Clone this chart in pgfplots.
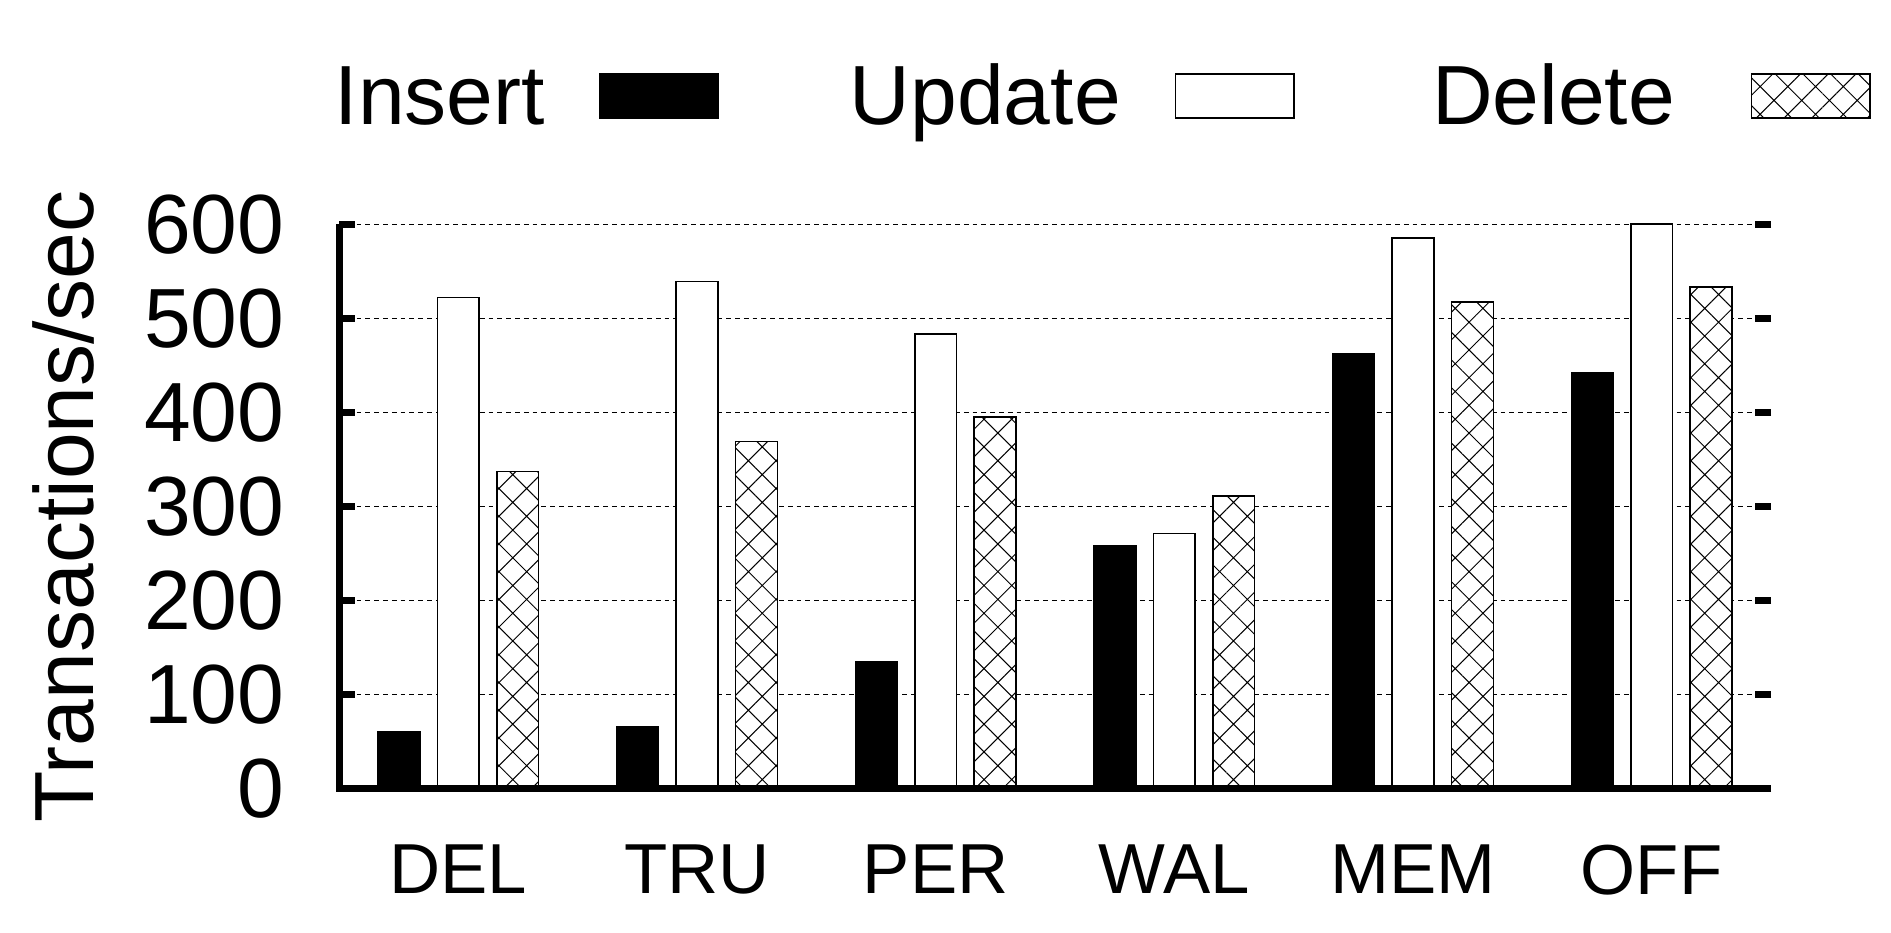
\documentclass[border=0pt]{standalone}
\usepackage{fontspec}
\setmainfont{Liberation Sans}
\usepackage{pgfplots}
\usepackage{pgfplotstable}
\pgfplotsset{compat=1.18}
\usetikzlibrary{patterns.meta}

\pgfplotsset{
    box legend/.style={legend image code/.code={%
        \draw[##1] (0pt,1.75pt) rectangle (29.6pt,12.75pt);}},
}

% x: journal mode index, ins/upd/del in transactions per second
\pgfplotstableread{
x ins upd del
0 60  522 337
1 66  539 369
2 135 483 395
3 258 271 311
4 462 585 517
5 442 600 533
}\modes

\begin{document}
\begin{tikzpicture}
\useasboundingbox (-84.75pt,-35.875pt) rectangle (388pt,197.125pt);
\begin{axis}[
    scale only axis,
    width=358pt, height=141.1pt,
    xmin=-0.5, xmax=5.5, ymin=0, ymax=600,
    clip=false,
    axis line style={draw=none},
    xtick={0,...,5},
    xticklabels={DEL,TRU,PER,WAL,MEM,OFF},
    xtick style={draw=none},
    xticklabel style={anchor=north, inner sep=0pt, yshift=-13.9pt,
        font=\fontsize{17.7}{20}\selectfont},
    ytick={0,100,...,600},
    ytick pos=both, yticklabel pos=left,
    tick align=inside,
    major tick length=3.9pt,
    ytick style={line width=1.75pt, black},
    yticklabel style={anchor=east, inner sep=0pt, xshift=-13.5pt,
        font=\fontsize{21}{25}\selectfont},
    /pgf/number format/assume math mode=true,
    ymajorgrids,
    grid style={black, line width=0.3pt, dash pattern=on 1.2pt off 1pt},
    ylabel={Transactions/sec},
    ylabel style={at={(axis description cs:-0.1711,0.5)}, anchor=base,
        inner sep=0pt, font=\fontsize{21}{25}\selectfont},
    legend columns=3,
    legend plot pos=right,
    legend style={draw=none, fill=none,
        at={(axis description cs:-0.04679,1.29058)}, anchor=north west,
        inner sep=0pt,
        nodes={inner sep=0pt, text height=16pt, text depth=16pt},
        font=\fontsize{21}{25}\selectfont,
        /tikz/every odd column/.style={column sep=13.5pt},
        /tikz/every even column/.style={column sep=32.5pt}},
]
% Insert
\addplot[ybar, bar width=0.175, bar shift=-0.249, fill=black, draw=black,
    line width=0.4pt, box legend]
    table[x=x, y=ins] {\modes};
\addlegendentry{\makebox[68pt][r]{Insert}}
% Update
\addplot[ybar, bar width=0.175, bar shift=0, fill=white, draw=black,
    line width=0.4pt, box legend]
    table[x=x, y=upd] {\modes};
\addlegendentry{\makebox[68pt][r]{Update}}
% Delete
\addplot[ybar, bar width=0.175, bar shift=0.249, fill=white, draw=black,
    line width=0.4pt,
    postaction={pattern={Hatch[angle=45, distance=4.9pt, line width=0.25pt]}},
    box legend]
    table[x=x, y=del] {\modes};
\addlegendentry{\makebox[68pt][r]{Delete\hspace{5.5pt}}}

\draw[line width=1.75pt] (rel axis cs:0,1) -- (rel axis cs:0,0) -- (rel axis cs:1,0);
\end{axis}
\end{tikzpicture}
\end{document}
